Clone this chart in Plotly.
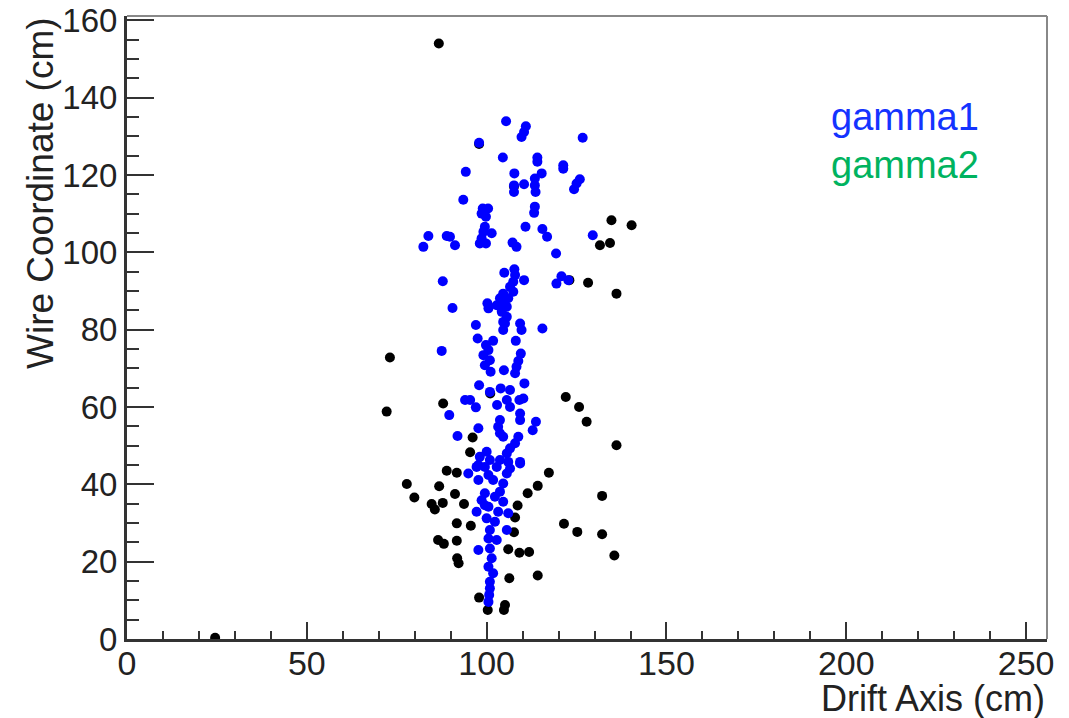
import plotly.graph_objects as go

# ---- data (Drift Axis cm, Wire Coordinate cm) ----
all_x = [86.7, 24.5, 73.1, 72.2, 87.9, 77.8, 79.9, 88.9, 91.7, 86.8, 91.2, 84.7, 87.8, 85.6,
         91.7, 86.5, 88.1, 91.7, 91.8, 92.2, 93.7, 95.6, 97.9, 100.3, 105.1, 104.8, 106.3, 114.2,
         106.0, 109.1, 111.8, 107.6, 107.9, 108.6, 111.4, 114.2, 117.3, 121.5, 125.2, 132.1, 132.1,
         135.5, 136.1, 122.0, 125.7, 127.8, 134.7, 140.3, 131.5, 134.3, 128.2, 136.1, 123.0, 95.4,
         96.1, 97.9, 107.6, 101.0]
all_y = [154.0, 0.3, 72.8, 58.8, 60.9, 40.1, 36.6, 43.5, 43.0, 39.5, 37.5, 34.9, 35.2, 33.5,
         29.9, 25.6, 24.6, 25.4, 20.9, 19.6, 34.9, 29.3, 10.7, 7.5, 8.8, 7.5, 15.7, 16.4,
         23.2, 22.3, 22.5, 27.6, 31.4, 34.5, 37.7, 39.6, 43.0, 29.8, 27.7, 37.0, 27.1,
         21.6, 50.1, 62.6, 60.0, 56.2, 108.3, 107.0, 101.8, 102.4, 92.1, 89.3, 92.8, 48.3,
         52.1, 128.0, 117.0, 63.5]

gamma1_x = [105.4, 110.9, 110.4, 109.7, 126.7, 97.9, 104.5, 114.1, 114.1, 121.3, 121.3, 94.2,
            107.7, 115.3, 113.4, 125.9, 125.0, 124.3, 110.4, 107.6, 107.6, 113.4, 113.6, 93.5,
            98.9, 100.4, 98.6, 99.8, 113.4, 113.2, 99.5, 99.1, 101.4, 98.6, 98.1, 99.8, 110.8,
            115.5, 116.8, 83.8, 82.4, 88.9, 89.8, 91.2, 107.2, 108.3, 129.5, 119.3, 87.8, 90.5,
            104.9, 107.7, 107.9, 110.4, 107.4, 106.5, 107.4, 104.6, 103.7, 106.0, 104.6, 102.8,
            105.6, 104.2, 105.6, 104.6, 100.2, 100.5, 119.4, 120.8, 122.7, 97.0, 109.3, 115.5,
            105.1, 104.6, 109.7, 87.5, 97.5, 99.8, 101.8, 100.5, 99.1, 100.9, 99.5, 101.1,
            108.1, 109.5, 108.8, 108.3, 107.9, 104.8, 110.5, 97.9, 100.9, 103.9, 106.5, 105.6,
            102.9, 106.5, 109.1, 110.2, 94.0, 95.4, 97.0, 89.6, 109.3, 109.3, 113.7, 112.8,
            103.7, 103.2, 103.7, 104.6, 97.7, 91.9, 108.8, 107.9, 106.5, 105.6, 100.0, 98.1,
            100.9, 103.7, 106.0, 109.3, 97.2, 99.5, 102.8, 106.5, 94.9, 97.7, 97.7, 100.5,
            105.6, 109.3, 104.6, 99.5, 102.3, 104.6, 97.2, 100.5, 103.2, 106.0, 100.0, 102.3,
            105.6, 100.9, 100.5, 102.8, 97.7, 100.9, 101.4, 100.5, 101.8, 100.9, 100.9, 100.7,
            100.5, 99.5, 98.6, 103.7, 101.8]
gamma1_y = [133.9, 132.6, 131.1, 129.8, 129.6, 128.3, 124.5, 124.5, 123.4, 122.5, 121.6, 120.8,
            120.4, 120.4, 119.1, 118.9, 117.8, 116.3, 117.6, 117.3, 115.6, 117.3, 115.6, 113.6,
            111.3, 111.3, 110.0, 109.2, 111.8, 110.2, 106.6, 105.3, 104.9, 103.6, 102.3, 102.3, 106.6,
            106.0, 104.0, 104.2, 101.4, 104.2, 104.0, 101.8, 102.5, 101.4, 104.4, 99.7, 92.5, 85.6,
            94.7, 95.6, 94.1, 92.8, 92.4, 91.1, 89.8, 89.3, 88.1, 88.1, 86.8, 86.3,
            85.9, 84.6, 83.3, 82.0, 86.8, 85.5, 91.9, 93.8, 92.8, 81.2, 81.6, 80.3,
            81.6, 79.9, 79.9, 74.5, 77.7, 76.0, 77.1, 74.7, 73.4, 72.1, 70.8, 69.1,
            77.1, 73.8, 71.9, 70.4, 68.7, 69.5, 66.1, 65.6, 63.9, 64.8, 64.4, 61.8,
            60.5, 60.0, 61.8, 62.2, 61.8, 61.8, 59.9, 57.9, 58.3, 56.6, 56.2, 54.0,
            56.6, 54.9, 53.2, 52.3, 54.5, 52.5, 52.3, 50.6, 49.3, 48.0, 48.4, 47.1,
            46.3, 46.3, 45.8, 45.8, 44.5, 44.5, 44.5, 44.1, 42.8, 45.0, 41.1, 42.4,
            42.8, 45.4, 40.2, 37.7, 36.8, 35.5, 32.9, 34.2, 32.9, 32.5, 31.2, 30.3,
            28.2, 28.2, 26.0, 25.6, 23.0, 23.4, 20.9, 18.7, 17.0, 14.8, 13.1, 11.4,
            9.6, 34.6, 35.9, 38.1, 41.1]

legend_labels = ["gamma1", "gamma2"]
legend_colors = ["#1433ff", "#00b35f"]

x_ticks = [0, 50, 100, 150, 200, 250]
y_ticks = [0, 20, 40, 60, 80, 100, 120, 140, 160]

FONT = "Liberation Sans, Arial, Helvetica, sans-serif"

fig = go.Figure()
fig.add_trace(go.Scatter(x=all_x, y=all_y, mode="markers",
                         marker=dict(color="black", size=10, line=dict(width=0)),
                         showlegend=False))
fig.add_trace(go.Scatter(x=gamma1_x, y=gamma1_y, mode="markers",
                         marker=dict(color="#0000ff", size=10, line=dict(width=0)),
                         showlegend=False))

L, R, T, B = 127, 22, 16, 79
W, H = 1069, 718
pw, ph = W - L - R, H - T - B

def px(xp):
    return (xp - L) / pw

def py(yp):
    return (H - B - yp) / ph

fig.update_layout(
    width=W, height=H,
    margin=dict(l=L, r=R, t=T, b=B, pad=0, autoexpand=False),
    paper_bgcolor="white", plot_bgcolor="white",
    font=dict(family=FONT, color="#222"),
    xaxis=dict(range=[0, 255.8], tickvals=x_ticks, ticktext=[str(v) for v in x_ticks],
               ticks="inside", ticklen=17, tickwidth=2, tickcolor="#333",
               minor=dict(ticks="inside", ticklen=8, dtick=10, tick0=0, tickwidth=2, tickcolor="#333"),
               showline=True, linewidth=3, linecolor="#333", showgrid=False, zeroline=False,
               automargin=False, ticklabelstandoff=-8,
               tickfont=dict(size=34, family=FONT, color="#222")),
    yaxis=dict(range=[0, 161.1], tickvals=y_ticks, ticktext=[str(v) for v in y_ticks],
               ticks="inside", ticklen=27, tickwidth=2, tickcolor="#333",
               minor=dict(ticks="inside", ticklen=12, dtick=5, tick0=0, tickwidth=2, tickcolor="#333"),
               showline=True, linewidth=3, linecolor="#333", showgrid=False, zeroline=False,
               automargin=False,
               tickfont=dict(size=33, family=FONT, color="#222")),
)

# frame top & right
fig.add_shape(type="line", xref="paper", yref="paper", x0=0, x1=1, y0=1, y1=1,
              line=dict(color="#888", width=2))
fig.add_shape(type="line", xref="paper", yref="paper", x0=1, x1=1, y0=0, y1=1,
              line=dict(color="#888", width=2))

# axis titles
fig.add_annotation(text="Drift Axis (cm)", xref="paper", yref="paper",
                   x=px(1047), y=py(698), xanchor="right", yanchor="middle",
                   showarrow=False, font=dict(size=36, family=FONT, color="#222"))
fig.add_annotation(text="Wire Coordinate (cm)", xref="paper", yref="paper",
                   x=px(41), y=py(15), xanchor="center", yanchor="top", textangle=-90,
                   showarrow=False, font=dict(size=37, family=FONT, color="#222"))

# legend text
for i, (lab, col) in enumerate(zip(legend_labels, legend_colors)):
    fig.add_annotation(text=lab, xref="paper", yref="paper",
                       x=px(829), y=py(117 + 48 * i), xanchor="left", yanchor="middle",
                       showarrow=False, font=dict(size=38, family=FONT, color=col))

fig.write_html("out.html")
